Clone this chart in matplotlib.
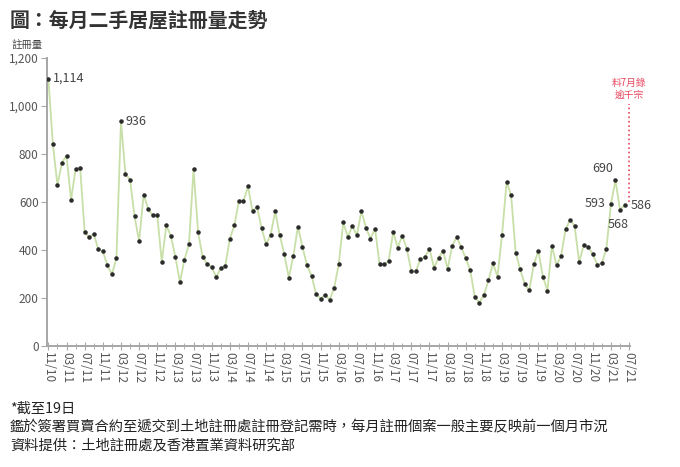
import matplotlib.pyplot as plt
import numpy as np
import pandas as pd

plt.rcParams['font.family'] = ['Noto Sans CJK TC', 'DejaVu Sans']

# monthly registrations, 11/2010 onwards (last point = July 2021 up to 19th)
values = [1114, 840, 671, 764, 793, 610, 737, 743, 475, 454, 467, 404,
          394, 337, 299, 365, 936, 715, 693, 540, 437, 631, 571, 544,
          546, 350, 503, 458, 371, 265, 360, 425, 737, 474, 371, 343,
          328, 287, 324, 335, 446, 503, 605, 605, 665, 562, 580, 490,
          424, 464, 561, 461, 383, 285, 375, 497, 414, 337, 293, 218,
          197, 214, 192, 243, 340, 515, 454, 501, 461, 562, 493, 447,
          489, 340, 340, 354, 475, 410, 460, 406, 311, 311, 362, 369,
          406, 326, 367, 397, 321, 417, 454, 412, 365, 315, 203, 181,
          212, 274, 344, 289, 464, 683, 628, 389, 319, 258, 232, 340,
          396, 289, 231, 418, 336, 374, 486, 526, 499, 349, 421, 414,
          382, 339, 344, 406, 593, 690, 568, 586]
months = pd.period_range('2010-11', '2021-07', freq='M')
yticks = [0, 200, 400, 600, 800, 1000, 1200]

# labelled points: index -> (text, dx px, dy px, ha, va)
labels = {0: ('1,114', 5, 0, 'left', 'center'),
          16: ('936', 5, 0, 'left', 'center'),
          124: ('593', -5, 0, 'right', 'center'),
          125: ('690', -2, 5, 'right', 'bottom'),
          126: ('568', -2, -8, 'center', 'top'),
          127: ('586', 6, 0, 'left', 'center')}

fig = plt.figure(figsize=(6.8, 4.67), dpi=100)
ax = fig.add_axes([47/680, 1 - 346/467, 583/680, 288/467])

x = np.arange(len(values))
ax.plot(x, values, color='#c8dfa8', lw=1.3, zorder=2)
ax.scatter(x, values, s=5, color='#2b2b2b', zorder=3)

for i, (t, dx, dy, ha, va) in labels.items():
    ax.annotate(t, (x[i], values[i]), xytext=(dx*0.72, dy*0.72), textcoords='offset points',
                ha=ha, va=va, fontsize=9, color='#444444')

# red dotted line towards July estimate
xj = len(months) - 1
ax.plot([xj, xj], [600, 1010], ls=':', color='#e8475f', lw=1.2, zorder=1)
ax.text(xj, 1025, '料7月錄\n逾千宗', ha='center', va='bottom', fontsize=7,
        color='#e8475f', linespacing=1.3)

ax.set_xlim(-0.3, len(months) - 0.8)
ax.set_ylim(0, 1200)
ax.set_yticks(yticks)
ax.set_yticklabels([f'{v:,}' for v in yticks])
ax.set_xticks(np.arange(0, len(months), 4))
ax.set_xticklabels([m.strftime('%m/%y') for m in months[::4]], rotation=270)
ax.set_xticks(np.arange(0, len(months), 2), minor=True)

for s in ['top', 'right']:
    ax.spines[s].set_visible(False)
for s in ['left', 'bottom']:
    ax.spines[s].set_color('#a6a6a6')
    ax.spines[s].set_linewidth(1.4)
ax.tick_params(axis='y', length=4, color='#a6a6a6', labelsize=8.5, labelcolor='#555555', pad=2)
ax.tick_params(axis='x', which='major', direction='inout', length=6, color='#a6a6a6',
               labelsize=8.5, labelcolor='#555555', pad=1)
ax.tick_params(axis='x', which='minor', direction='inout', length=4, color='#a6a6a6')

fig.text(10/680, 1 - 20/467, '圖：每月二手居屋註冊量走勢', fontsize=14.3, fontweight='bold',
         color='#333333', va='center', ha='left')
fig.text(12/680, 1 - 45/467, '註冊量', fontsize=7.5, color='#444444', va='center', ha='left')

notes = ['*截至19日',
         '鑑於簽署買賣合約至遞交到土地註冊處註冊登記需時，每月註冊個案一般主要反映前一個月市況',
         '資料提供：土地註冊處及香港置業資料研究部']
for k, n in enumerate(notes):
    fig.text(10/680, 1 - (409 + 18.5*k)/467, n, fontsize=10.3, color='#222222',
             va='center', ha='left')

fig.savefig('out.png', dpi=100)
